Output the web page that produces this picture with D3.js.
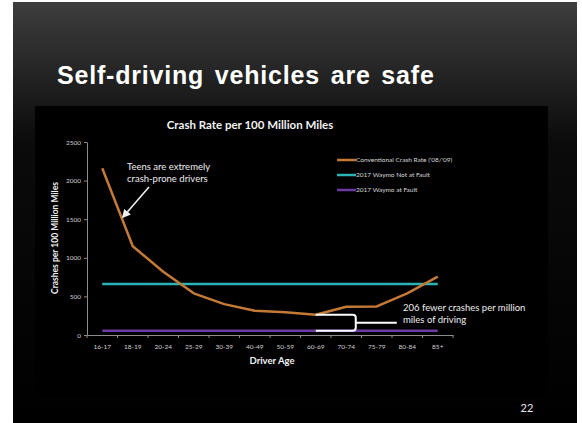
<!DOCTYPE html>
<html>
<head>
<meta charset="utf-8">
<script src="https://cdnjs.cloudflare.com/ajax/libs/d3/7.8.5/d3.min.js"></script>
<style>
    body { margin: 0; background: #fff; }
    text { font-family: Lato, "Open Sans", sans-serif; }
</style>
</head>
<body>
<div id="chart"></div>
<script>
// Data
let ageGroups = ["16-17", "18-19", "20-24", "25-29", "30-39", "40-49", "50-59", "60-69", "70-74", "75-79", "80-84", "85+"];
let conventionalRate = [2160, 1150, 820, 540, 400, 315, 295, 262, 365, 370, 540, 755];
let waymoNotAtFault = 660;
let waymoAtFault = 56;
let yTicks = [0, 500, 1000, 1500, 2000, 2500];
let legendLabels = ["Conventional Crash Rate ('08/'09)", "2017 Waymo Not at Fault", "2017 Waymo at Fault"];
let seriesColors = ["#c47a36", "#2bb3b6", "#6d3aa3"];

let width = 582, height = 423;

let svg = d3.select("#chart")
    .append("svg")
    .attr("width", width)
    .attr("height", height);

// Slide background with dark gradient
let grad = svg.append("defs").append("linearGradient")
    .attr("id", "slideGrad")
    .attr("x1", 0).attr("y1", 0).attr("x2", 0).attr("y2", 1);
grad.append("stop").attr("offset", 0).attr("stop-color", "#3e3e3e");
grad.append("stop").attr("offset", 0.33).attr("stop-color", "#0b0b0b");
grad.append("stop").attr("offset", 1).attr("stop-color", "#000");

svg.append("rect")
    .attr("x", 13).attr("y", 2)
    .attr("width", 564).attr("height", 421)
    .attr("fill", "url(#slideGrad)");

// Chart box
svg.append("rect")
    .attr("x", 35).attr("y", 106)
    .attr("width", 513).attr("height", 290)
    .attr("fill", "#000");

svg.append("text")
    .attr("x", 57).attr("y", 84)
    .attr("fill", "#fff")
    .style("font-family", "'Liberation Sans', Arial, sans-serif")
    .style("font-weight", "bold")
    .style("font-size", "25px")
    .style("letter-spacing", "0.8px")
    .style("word-spacing", "3px")
    .text("Self-driving vehicles are safe");

svg.append("text")
    .attr("x", 250).attr("y", 129)
    .attr("text-anchor", "middle")
    .attr("fill", "#f2f2f2")
    .style("font-weight", "bold")
    .style("font-size", "11.5px")
    .text("Crash Rate per 100 Million Miles");

// Scales
let xScale = d3.scaleBand()
    .domain(ageGroups)
    .range([87, 453]);

let yScale = d3.scaleLinear()
    .domain([0, 2500])
    .range([335, 142]);

let cx = d => xScale(d) + xScale.bandwidth() / 2;

// Y axis
let yAxis = svg.append("g")
    .attr("transform", "translate(87,0)")
    .call(d3.axisLeft(yScale).tickValues(yTicks).tickFormat(d3.format("d")).tickSize(3).tickSizeOuter(0));
yAxis.select(".domain").attr("stroke", "#8c8c8c");
yAxis.selectAll(".tick line").attr("stroke", "#8c8c8c");
yAxis.selectAll(".tick text")
    .attr("fill", "#d0d0d0")
    .attr("x", -6)
    .style("font-family", "Lato, sans-serif")
    .style("font-size", "6.5px");

// X axis, tick marks sit between categories
let xAxis = svg.append("g")
    .attr("transform", "translate(0,335)")
    .call(d3.axisBottom(xScale).tickSize(0).tickSizeOuter(0).tickPadding(9));
xAxis.select(".domain").attr("stroke", "#8c8c8c");
xAxis.selectAll(".tick text")
    .attr("fill", "#d0d0d0")
    .style("font-family", "Lato, sans-serif")
    .style("font-size", "6.5px");
xAxis.selectAll(".boundary")
    .data(ageGroups.map(d => xScale(d)).concat([xScale.range()[1]]))
    .enter()
    .append("line")
    .attr("x1", d => d).attr("x2", d => d)
    .attr("y1", 0).attr("y2", 3)
    .attr("stroke", "#8c8c8c");

// Axis titles
svg.append("text")
    .attr("transform", "translate(58,238) rotate(-90)")
    .attr("text-anchor", "middle")
    .attr("fill", "#f2f2f2")
    .style("font-weight", "bold")
    .style("font-size", "8.5px")
    .text("Crashes per 100 Million Miles");

svg.append("text")
    .attr("x", 272).attr("y", 364)
    .attr("text-anchor", "middle")
    .attr("fill", "#f2f2f2")
    .style("font-weight", "bold")
    .style("font-size", "9.5px")
    .text("Driver Age");

// Waymo flat lines
svg.append("line")
    .attr("x1", cx(ageGroups[0])).attr("x2", cx(ageGroups[ageGroups.length - 1]))
    .attr("y1", yScale(waymoNotAtFault)).attr("y2", yScale(waymoNotAtFault))
    .attr("stroke", seriesColors[1])
    .attr("stroke-width", 2.5);

svg.append("line")
    .attr("x1", cx(ageGroups[0])).attr("x2", cx(ageGroups[ageGroups.length - 1]))
    .attr("y1", yScale(waymoAtFault)).attr("y2", yScale(waymoAtFault))
    .attr("stroke", seriesColors[2])
    .attr("stroke-width", 2.5);

// Conventional crash rate line
let line = d3.line()
    .x((d, i) => cx(ageGroups[i]))
    .y(d => yScale(d));

svg.append("path")
    .datum(conventionalRate)
    .attr("fill", "none")
    .attr("stroke", seriesColors[0])
    .attr("stroke-width", 2.5)
    .attr("stroke-linejoin", "round")
    .attr("d", line);

// Legend
let legend = svg.append("g");
legendLabels.forEach((label, i) => {
    let ly = 160 + i * 15;
    legend.append("line")
        .attr("x1", 337).attr("x2", 356)
        .attr("y1", ly).attr("y2", ly)
        .attr("stroke", seriesColors[i])
        .attr("stroke-width", 2.5);
    legend.append("text")
        .attr("x", 356).attr("y", ly + 2.2)
        .attr("fill", "#d9d9d9")
        .style("font-size", "6.5px")
        .text(label);
});

// Teens annotation
svg.append("defs").append("marker")
    .attr("id", "arrowHead")
    .attr("viewBox", "0 0 10 10")
    .attr("refX", 8).attr("refY", 5)
    .attr("markerWidth", 5.5).attr("markerHeight", 5.5)
    .attr("orient", "auto")
    .append("path")
    .attr("d", "M0,0L10,5L0,10Z")
    .attr("fill", "#eee");

svg.append("line")
    .attr("x1", 149).attr("y1", 187)
    .attr("x2", 123).attr("y2", 217)
    .attr("stroke", "#eee")
    .attr("stroke-width", 1.6)
    .attr("marker-end", "url(#arrowHead)");

svg.append("text")
    .attr("x", 127).attr("y", 170)
    .attr("fill", "#eee")
    .style("font-size", "9.5px")
    .text("Teens are extremely");
svg.append("text")
    .attr("x", 127).attr("y", 182)
    .attr("fill", "#eee")
    .style("font-size", "9.5px")
    .text("crash-prone drivers");

// Bracket between 60-69 conventional rate and Waymo at fault
let bx0 = cx("60-69");
let bTop = yScale(conventionalRate[ageGroups.indexOf("60-69")]);
let bBot = yScale(waymoAtFault);
let bMid = (bTop + bBot) / 2;
let bx1 = bx0 + 40;
svg.append("path")
    .attr("d", `M${bx0},${bTop}H${bx1 - 3}Q${bx1},${bTop} ${bx1},${bTop + 3}V${bBot - 3}Q${bx1},${bBot} ${bx1 - 3},${bBot}H${bx0}M${bx1},${bMid}H${bx1 + 41}`)
    .attr("fill", "none")
    .attr("stroke", "#fff")
    .attr("stroke-width", 2);

svg.append("text")
    .attr("x", 403).attr("y", 311)
    .attr("fill", "#eee")
    .style("font-size", "9.5px")
    .text("206 fewer crashes per million");
svg.append("text")
    .attr("x", 403).attr("y", 323)
    .attr("fill", "#eee")
    .style("font-size", "9.5px")
    .text("miles of driving");

// Slide number
svg.append("text")
    .attr("x", 527).attr("y", 412)
    .attr("text-anchor", "middle")
    .attr("fill", "#e6e6e6")
    .style("font-size", "11px")
    .text("22");
</script>
</body>
</html>
